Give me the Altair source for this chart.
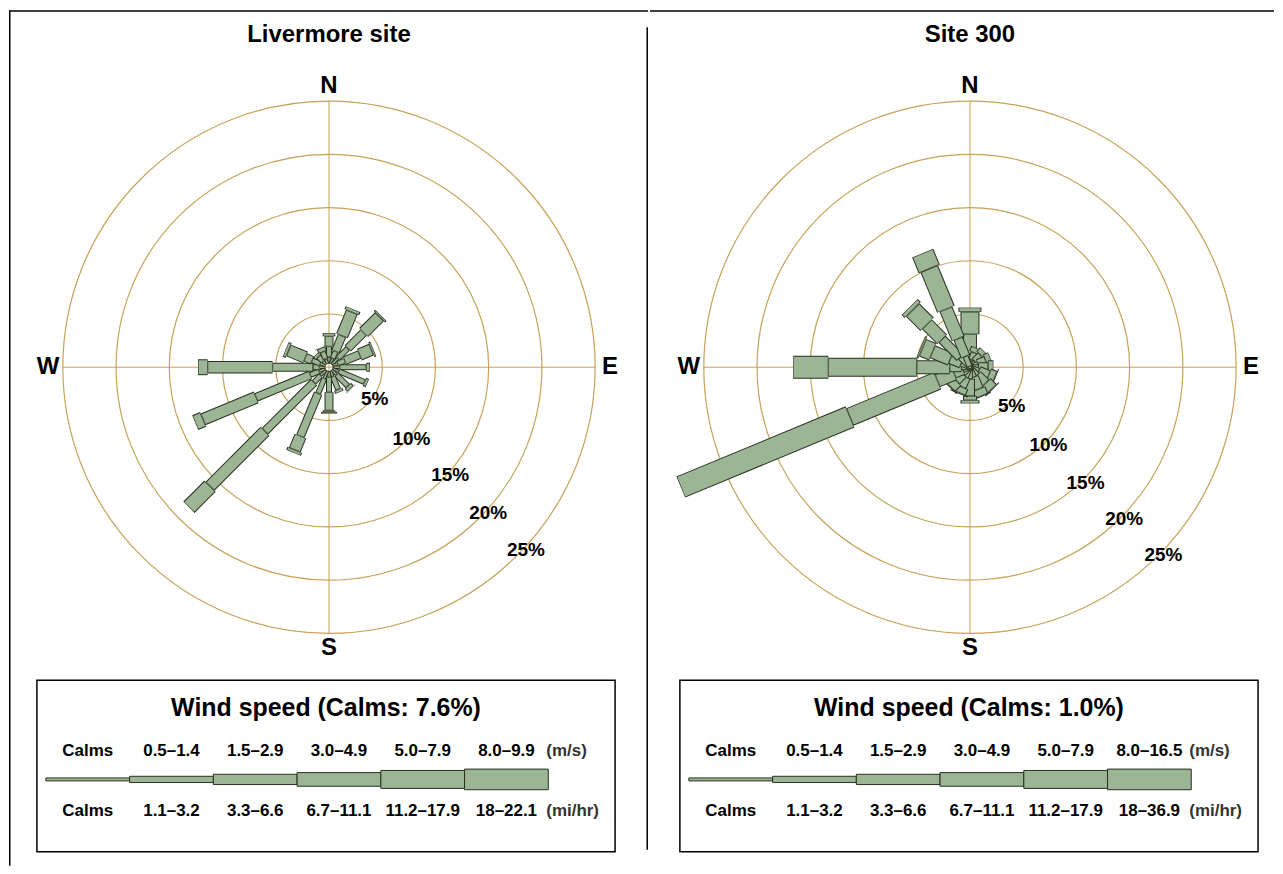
import altair as alt
import pandas as pd
import numpy as np

DIRECTIONS = ["N", "NNE", "NE", "ENE", "E", "ESE", "SE", "SSE",
              "S", "SSW", "SW", "WSW", "W", "WNW", "NW", "NNW"]
DIR_ANGLES = [i * 22.5 for i in range(16)]

# Livermore site: frequency (%) by speed class, per direction
LIV_C1 = [0.60, 0.55, 0.85, 0.55, 0.65, 0.65, 0.65, 0.60, 0.60, 0.80, 0.75, 0.65, 0.55, 0.55, 0.45, 0.50]
LIV_C2 = [1.00, 0.70, 1.30, 0.70, 2.50, 2.60, 1.50, 1.30, 1.40, 1.50, 0.90, 0.90, 0.60, 0.80, 0.60, 0.70]
LIV_C3 = [0.95, 1.60, 2.10, 1.50, 0.35, 0.30, 0.35, 0.30, 1.70, 4.35, 6.50, 5.50, 3.80, 0.70, 0.30, 0.40]
LIV_C4 = [0.30, 2.40, 2.10, 1.20, 0.00, 0.00, 0.05, 0.00, 0.15, 1.40, 7.30, 5.40, 6.10, 1.70, 0.00, 0.05]
LIV_C5 = [0.00, 0.30, 0.20, 0.20, 0.00, 0.00, 0.00, 0.00, 0.15, 0.30, 2.80, 0.80, 0.90, 0.30, 0.00, 0.00]

# Site 300
S300_C1 = [0.50, 0.60, 0.60, 0.70, 0.70, 0.80, 0.90, 0.90, 1.00, 0.90, 0.80, 0.60, 0.70, 0.80, 1.20, 1.00]
S300_C2 = [0.60, 0.70, 0.80, 0.80, 0.90, 1.00, 1.10, 1.20, 1.60, 1.00, 0.90, 0.90, 1.10, 1.10, 2.40, 1.80]
S300_C3 = [1.90, 0.50, 0.50, 0.50, 0.50, 0.60, 0.80, 0.70, 0.40, 0.60, 0.80, 1.70, 3.10, 1.80, 2.00, 3.00]
S300_C4 = [2.10, 0.00, 0.00, 0.00, 0.00, 0.10, 0.10, 0.10, 0.30, 0.10, 0.10, 8.90, 8.30, 1.00, 1.90, 4.10]
S300_C5 = [0.40, 0.00, 0.00, 0.00, 0.00, 0.00, 0.00, 0.00, 0.00, 0.00, 0.00, 17.20, 3.30, 0.20, 0.40, 1.60]

RING_VALUES = [5, 10, 15, 20, 25]
RING_LABELS = ["5%", "10%", "15%", "20%", "25%"]
COMPASS = ["N", "E", "S", "W"]
COMPASS_ANGLES = [0, 90, 180, 270]

MS_LABELS = ["Calms", "0.5–1.4", "1.5–2.9", "3.0–4.9", "5.0–7.9"]
LIV_MS_TOP = "8.0–9.9"
S300_MS_TOP = "8.0–16.5"
MPH_LABELS = ["Calms", "1.1–3.2", "3.3–6.6", "6.7–11.1", "11.2–17.9"]
LIV_MPH_TOP = "18–22.1"
S300_MPH_TOP = "18–36.9"

LIV_TITLE = "Livermore site"
S300_TITLE = "Site 300"
LIV_CALMS = "Wind speed (Calms: 7.6%)"
S300_CALMS = "Wind speed (Calms: 1.0%)"

# ---- styling / layout ----
FONT = "Liberation Sans"
GREEN = "#9cb594"
DARK = "#27301f"
GOLD = "#c9a157"
K = 10.68          # pixels per percent
H = 858
CY = 358
CX = 321
DELTA = 0.6 / K

LIV_WIDTHS = [3.5, 6.0, 9.0, 12.7, 16.0]
S300_WIDTHS = [6.0, 10.0, 14.0, 19.0, 23.0]
LEG_WIDTHS = [3.0, 6.3, 10.3, 13.7, 18.0, 20.7]


def rose_df(classes, widths, hole):
    rows = []
    k = 0
    for d, ang_deg in enumerate(DIR_ANGLES):
        a = np.deg2rad(ang_deg)
        s, c = np.sin(a), np.cos(a)
        r = hole
        segs = []
        for ci, vals in enumerate(classes):
            v = vals[d]
            if v > 0:
                segs.append((r, r + v, widths[ci]))
            r += v
        for r0, r1, w in segs:
            rows.append(dict(x=r0 * s, y=r0 * c, x2=r1 * s, y2=r1 * c, w=w, col=DARK, k=k))
            k += 1
        for r0, r1, w in segs:
            a0, a1 = r0 + DELTA, r1 - DELTA
            if a1 > a0:
                rows.append(dict(x=a0 * s, y=a0 * c, x2=a1 * s, y2=a1 * c, w=w - 2, col=GREEN, k=k))
                k += 1
    return pd.DataFrame(rows)


def panel(width, classes, widths, hole, title, calms_title, ms_top, mph_top,
          pct_angles, pct_off, leg_left, left_border=False, separator=False):
    xs = alt.Scale(domain=[-CX / K, (width - CX) / K], nice=False, zero=False)
    ys = alt.Scale(domain=[-(H - CY) / K, CY / K], nice=False, zero=False)
    X = lambda f: alt.X(f, type="quantitative", scale=xs, axis=None)
    Y = lambda f: alt.Y(f, type="quantitative", scale=ys, axis=None)

    rings = pd.DataFrame({"x": 0.0, "y": 0.0, "r": RING_VALUES})
    rings["s"] = (2 * rings["r"] * K) ** 2
    ring_layer = alt.Chart(rings).mark_point(
        shape="circle", filled=False, stroke=GOLD, strokeWidth=1.2, opacity=1
    ).encode(x=X("x"), y=Y("y"), size=alt.Size("s:Q", scale=None, legend=None))

    R = max(RING_VALUES)
    spokes = pd.DataFrame({"x": [-R, 0.0], "x2": [R, 0.0], "y": [0.0, -R], "y2": [0.0, R]})
    spoke_layer = alt.Chart(spokes).mark_rule(color=GOLD, strokeWidth=1).encode(
        x=X("x"), x2="x2:Q", y=Y("y"), y2="y2:Q")

    rdf = rose_df(classes, widths, hole)
    bar_layer = alt.Chart(rdf).mark_rule(strokeCap="butt").encode(
        x=X("x"), x2="x2:Q", y=Y("y"), y2="y2:Q",
        strokeWidth=alt.StrokeWidth("w:Q", scale=None, legend=None),
        color=alt.Color("col:N", scale=None, legend=None),
        order=alt.Order("k:Q"))

    cr = 26.4
    comp = pd.DataFrame({
        "t": COMPASS,
        "x": [cr * np.sin(np.deg2rad(a)) for a in COMPASS_ANGLES],
        "y": [cr * np.cos(np.deg2rad(a)) for a in COMPASS_ANGLES],
    })
    comp_layer = alt.Chart(comp).mark_text(
        font=FONT, fontWeight="bold", fontSize=24, baseline="middle", align="center", color="black"
    ).encode(x=X("x"), y=Y("y"), text="t:N")

    pr = [v + pct_off for v in RING_VALUES]
    pct = pd.DataFrame({
        "t": RING_LABELS,
        "x": [r * np.sin(np.deg2rad(a)) for r, a in zip(pr, pct_angles)],
        "y": [r * np.cos(np.deg2rad(a)) for r, a in zip(pr, pct_angles)],
    })
    pct_layer = alt.Chart(pct).mark_text(
        font=FONT, fontWeight="bold", fontSize=19, baseline="middle", align="center", color="black"
    ).encode(x=X("x"), y=Y("y"), text="t:N")

    # title (pixel layout)
    title_layer = alt.Chart(pd.DataFrame({"t": [title], "px": [CX], "py": [25]})).mark_text(
        font=FONT, fontWeight="bold", fontSize=24, baseline="middle", align="center", color="black"
    ).encode(x=alt.X("px:Q", scale=None), y=alt.Y("py:Q", scale=None), text="t:N")

    # legend
    L = leg_left
    box = pd.DataFrame({"x0": [L], "x1": [L + 580], "y0": [672], "y1": [844]})
    box_layer = alt.Chart(box).mark_rect(fill="white", stroke="black", strokeWidth=1.5).encode(
        x=alt.X("x0:Q", scale=None), x2="x1:Q", y=alt.Y("y0:Q", scale=None), y2="y1:Q")

    seg_edges = [L + 9 + 84 * i for i in range(7)]
    yc = 771.5
    leg = pd.DataFrame({
        "x0": seg_edges[:-1], "x1": seg_edges[1:],
        "y0": [yc - w / 2 for w in LEG_WIDTHS], "y1": [yc + w / 2 for w in LEG_WIDTHS],
    })
    leg_layer = alt.Chart(leg).mark_rect(fill=GREEN, stroke=DARK, strokeWidth=1).encode(
        x=alt.X("x0:Q", scale=None), x2="x1:Q", y=alt.Y("y0:Q", scale=None), y2="y1:Q")

    centers = [(a + b) / 2 for a, b in zip(seg_edges[:-1], seg_edges[1:])]
    row_t = MS_LABELS + [ms_top] + MPH_LABELS + [mph_top]
    row_x = centers + centers
    row_y = [742.7] * 6 + [803] * 6
    rows_layer = alt.Chart(pd.DataFrame({"t": row_t, "px": row_x, "py": row_y})).mark_text(
        font=FONT, fontWeight="bold", fontSize=17, baseline="middle", align="center", color="black"
    ).encode(x=alt.X("px:Q", scale=None), y=alt.Y("py:Q", scale=None), text="t:N")

    units = pd.DataFrame({"t": ["(m/s)", "(mi/hr)"], "px": [L + 511, L + 511], "py": [742.7, 803]})
    units_layer = alt.Chart(units).mark_text(
        font=FONT, fontWeight="bold", fontSize=17, baseline="middle", align="left", color="#333333"
    ).encode(x=alt.X("px:Q", scale=None), y=alt.Y("py:Q", scale=None), text="t:N")

    ltitle = pd.DataFrame({"t": [calms_title], "px": [L + 290], "py": [700]})
    ltitle_layer = alt.Chart(ltitle).mark_text(
        font=FONT, fontWeight="bold", fontSize=25, baseline="middle", align="center", color="black"
    ).encode(x=alt.X("px:Q", scale=None), y=alt.Y("py:Q", scale=None), text="t:N")

    # frame lines
    lines = [dict(x=0, x2=width, y=0.75, y2=0.75, w=1.5)]
    if left_border:
        lines.append(dict(x=0.75, x2=0.75, y=0, y2=H, w=1.5))
    if separator:
        lines.append(dict(x=width - 0.75, x2=width - 0.75, y=17, y2=842, w=1.5))
    frame_layer = alt.Chart(pd.DataFrame(lines)).mark_rule(color="black").encode(
        x=alt.X("x:Q", scale=None), x2="x2:Q", y=alt.Y("y:Q", scale=None), y2="y2:Q",
        strokeWidth=alt.StrokeWidth("w:Q", scale=None, legend=None))

    return alt.layer(
        ring_layer, spoke_layer, bar_layer, comp_layer, pct_layer, title_layer,
        box_layer, leg_layer, rows_layer, units_layer, ltitle_layer, frame_layer
    ).properties(width=width, height=H)


p1 = panel(641, [LIV_C1, LIV_C2, LIV_C3, LIV_C4, LIV_C5], LIV_WIDTHS, 0.35,
           LIV_TITLE, LIV_CALMS, LIV_MS_TOP, LIV_MPH_TOP,
           [125, 131, 131.7, 132.4, 132.9], 0.25, 28, left_border=True, separator=True)
p2 = panel(626, [S300_C1, S300_C2, S300_C3, S300_C4, S300_C5], S300_WIDTHS, 0.1,
           S300_TITLE, S300_CALMS, S300_MS_TOP, S300_MPH_TOP,
           [133, 134.6, 135, 134.6, 134.2], 0.35, 30)

chart = alt.hconcat(p1, p2, spacing=0, padding=0).configure_view(
    stroke="transparent", strokeWidth=0
)

chart.save("out.html", embed_options={"renderer": "svg", "actions": False})
